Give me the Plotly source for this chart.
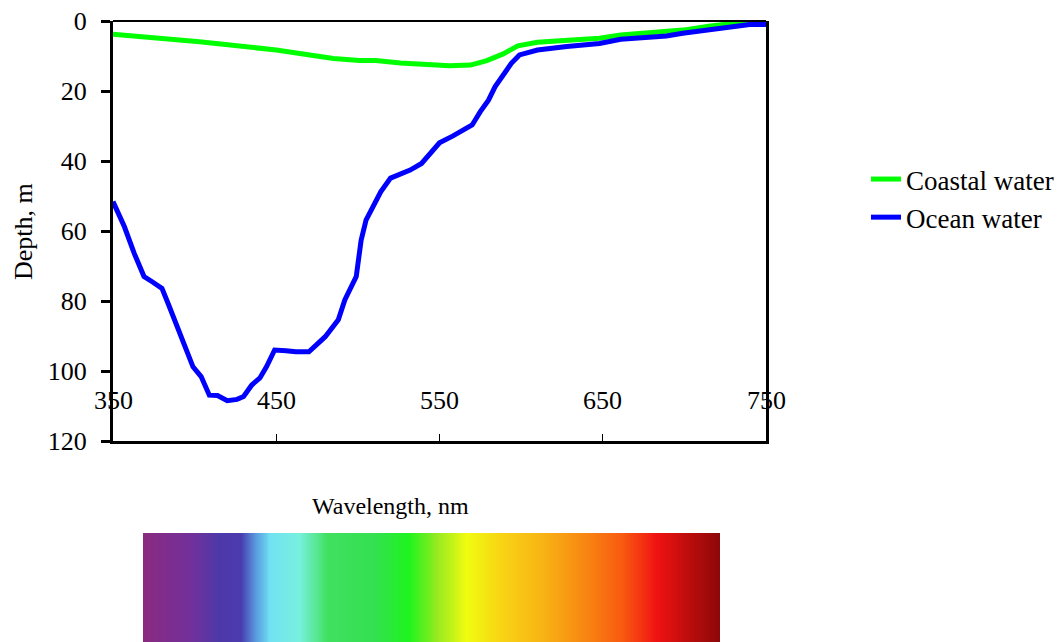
import numpy as np
import plotly.graph_objects as go

# ---- data ----
ocean_wl = [350, 357, 363, 369, 374, 380, 384, 391, 399, 404, 409, 414, 420, 426, 430,
            435, 440, 444, 449, 456, 462, 470, 474, 480, 488, 492, 499, 502, 505, 510,
            514, 520, 526, 532, 539, 544, 550, 558, 570, 575, 580, 584, 589, 594, 599,
            610, 628, 648, 661, 679, 689, 699, 716, 730, 740, 750]
ocean_depth = [51.6, 58.8, 66.4, 73.0, 74.5, 76.4, 81.0, 89.0, 98.8, 101.6, 106.9, 107.0, 108.5, 108.1, 107.3,
               104.0, 102.0, 98.8, 94.0, 94.2, 94.5, 94.5, 92.8, 90.2, 85.4, 79.7, 73.0, 62.6, 56.9, 52.1,
               48.8, 44.9, 43.8, 42.6, 40.7, 37.8, 34.8, 32.9, 29.7, 25.9, 22.6, 18.8, 15.4, 12.1, 9.7,
               8.3, 7.3, 6.4, 5.2, 4.7, 4.3, 3.5, 2.4, 1.4, 1.0, 1.0]

coastal_wl = [350, 403, 450, 485, 501, 511, 526, 542, 556, 569, 579, 589, 598, 610, 628,
              648, 661, 689, 699, 716, 730, 750]
coastal_depth = [3.8, 5.9, 8.3, 10.7, 11.3, 11.3, 12.0, 12.6, 12.8, 12.6, 11.3, 9.4, 7.1, 6.1, 5.6,
                 4.9, 4.0, 3.2, 2.6, 1.4, 0.7, 0.7]

x_ticks = [350, 450, 550, 650, 750]
y_ticks = [0, 20, 40, 60, 80, 100, 120]

spectrum_pos = [0.00, 0.08, 0.13, 0.17, 0.195, 0.22, 0.27, 0.32, 0.40, 0.46, 0.51, 0.56,
                0.62, 0.69, 0.76, 0.83, 0.89, 0.95, 1.00]
spectrum_colors = ["#8a2a80", "#73309a", "#4e38a8", "#4a3cb0", "#5a9ce0", "#70e2f2", "#78f0de",
                   "#40e060", "#34e050", "#1ef41e", "#98ea20", "#f0fc10", "#f8d414", "#f8b414",
                   "#f88a12", "#f85a10", "#f01212", "#b80c0c", "#8c0808"]

OFF = 8  # page body margin of the html page
W, H = 1064 - OFF, 642 - OFF
px0, px1 = 113 - OFF, 766 - OFF   # plot area x
py0, py1 = 21 - OFF, 441 - OFF    # plot area y (top, bottom)
sx0, sx1, sy0 = 143 - OFF, 720 - OFF, 533 - OFF  # spectrum bar

FONT = "Times New Roman, Liberation Serif, serif"

fig = go.Figure()
fig.add_trace(go.Scatter(x=coastal_wl, y=coastal_depth, mode="lines", name="Coastal water",
                         line=dict(color="#00ff00", width=5)))
fig.add_trace(go.Scatter(x=ocean_wl, y=ocean_depth, mode="lines", name="Ocean water",
                         line=dict(color="#0000ff", width=5)))

# spectrum bar
spec_x = np.linspace(0, 1, 300)
fig.add_trace(go.Heatmap(x=spec_x, y=[0, 1], z=[spec_x, spec_x], xaxis="x2", yaxis="y2",
                         colorscale=[[p, c] for p, c in zip(spectrum_pos, spectrum_colors)],
                         showscale=False, zsmooth="best", hoverinfo="skip"))

fig.update_layout(
    width=W, height=H,
    margin=dict(l=0, r=0, t=0, b=0, autoexpand=False),
    paper_bgcolor="white", plot_bgcolor="white",
    font=dict(family=FONT, size=25, color="black"),
    showlegend=True,
    legend=dict(x=858 / W, y=1 - (155 - OFF) / H, xanchor="left", yanchor="top",
                font=dict(family=FONT, size=27), bgcolor="rgba(0,0,0,0)",
                tracegroupgap=0, itemwidth=30),
    xaxis=dict(domain=[px0 / W, px1 / W], range=[350, 750], showgrid=False, zeroline=False,
               automargin=False,
               showline=True, linecolor="black", linewidth=3,
               tickmode="array", tickvals=x_ticks[1:-1], ticks="inside", ticklen=7,
               tickwidth=1, tickcolor="black", showticklabels=False),
    yaxis=dict(domain=[1 - py1 / H, 1 - py0 / H], range=[120, 0], showgrid=False, zeroline=False,
               automargin=False, ticklabeloverflow="allow", ticklabelstandoff=9,
               showline=True, linecolor="black", linewidth=3, mirror=True,
               tickmode="array", tickvals=y_ticks, ticks="outside", ticklen=9, tickwidth=3,
               tickcolor="black", tickfont=dict(family=FONT, size=26)),
    xaxis2=dict(domain=[sx0 / W, sx1 / W], range=[0, 1], visible=False, anchor="y2",
                automargin=False),
    yaxis2=dict(domain=[0, 1 - sy0 / H], range=[0, 1], visible=False, anchor="x2",
                automargin=False),
)

# top border (thinner)
fig.add_shape(type="line", xref="paper", yref="paper", x0=px0 / W, x1=px1 / W,
              y0=1 - py0 / H, y1=1 - py0 / H, line=dict(color="black", width=2))

# x tick labels (drawn inside the plot like the original)
for t in x_ticks:
    fig.add_annotation(x=t, y=108.3, xref="x", yref="y", text=str(t), showarrow=False,
                       font=dict(family=FONT, size=26), xanchor="center", yanchor="middle")

# axis titles
fig.add_annotation(x=(23 - OFF) / W, y=1 - (232 - OFF) / H, xref="paper", yref="paper",
                   text="Depth, m", textangle=-90, showarrow=False,
                   font=dict(family=FONT, size=26), xanchor="center", yanchor="middle")
fig.add_annotation(x=(390 - OFF) / W, y=1 - (506 - OFF) / H, xref="paper", yref="paper",
                   text="Wavelength, nm", showarrow=False, font=dict(family=FONT, size=24),
                   xanchor="center", yanchor="middle")

fig.write_html("out.html")
